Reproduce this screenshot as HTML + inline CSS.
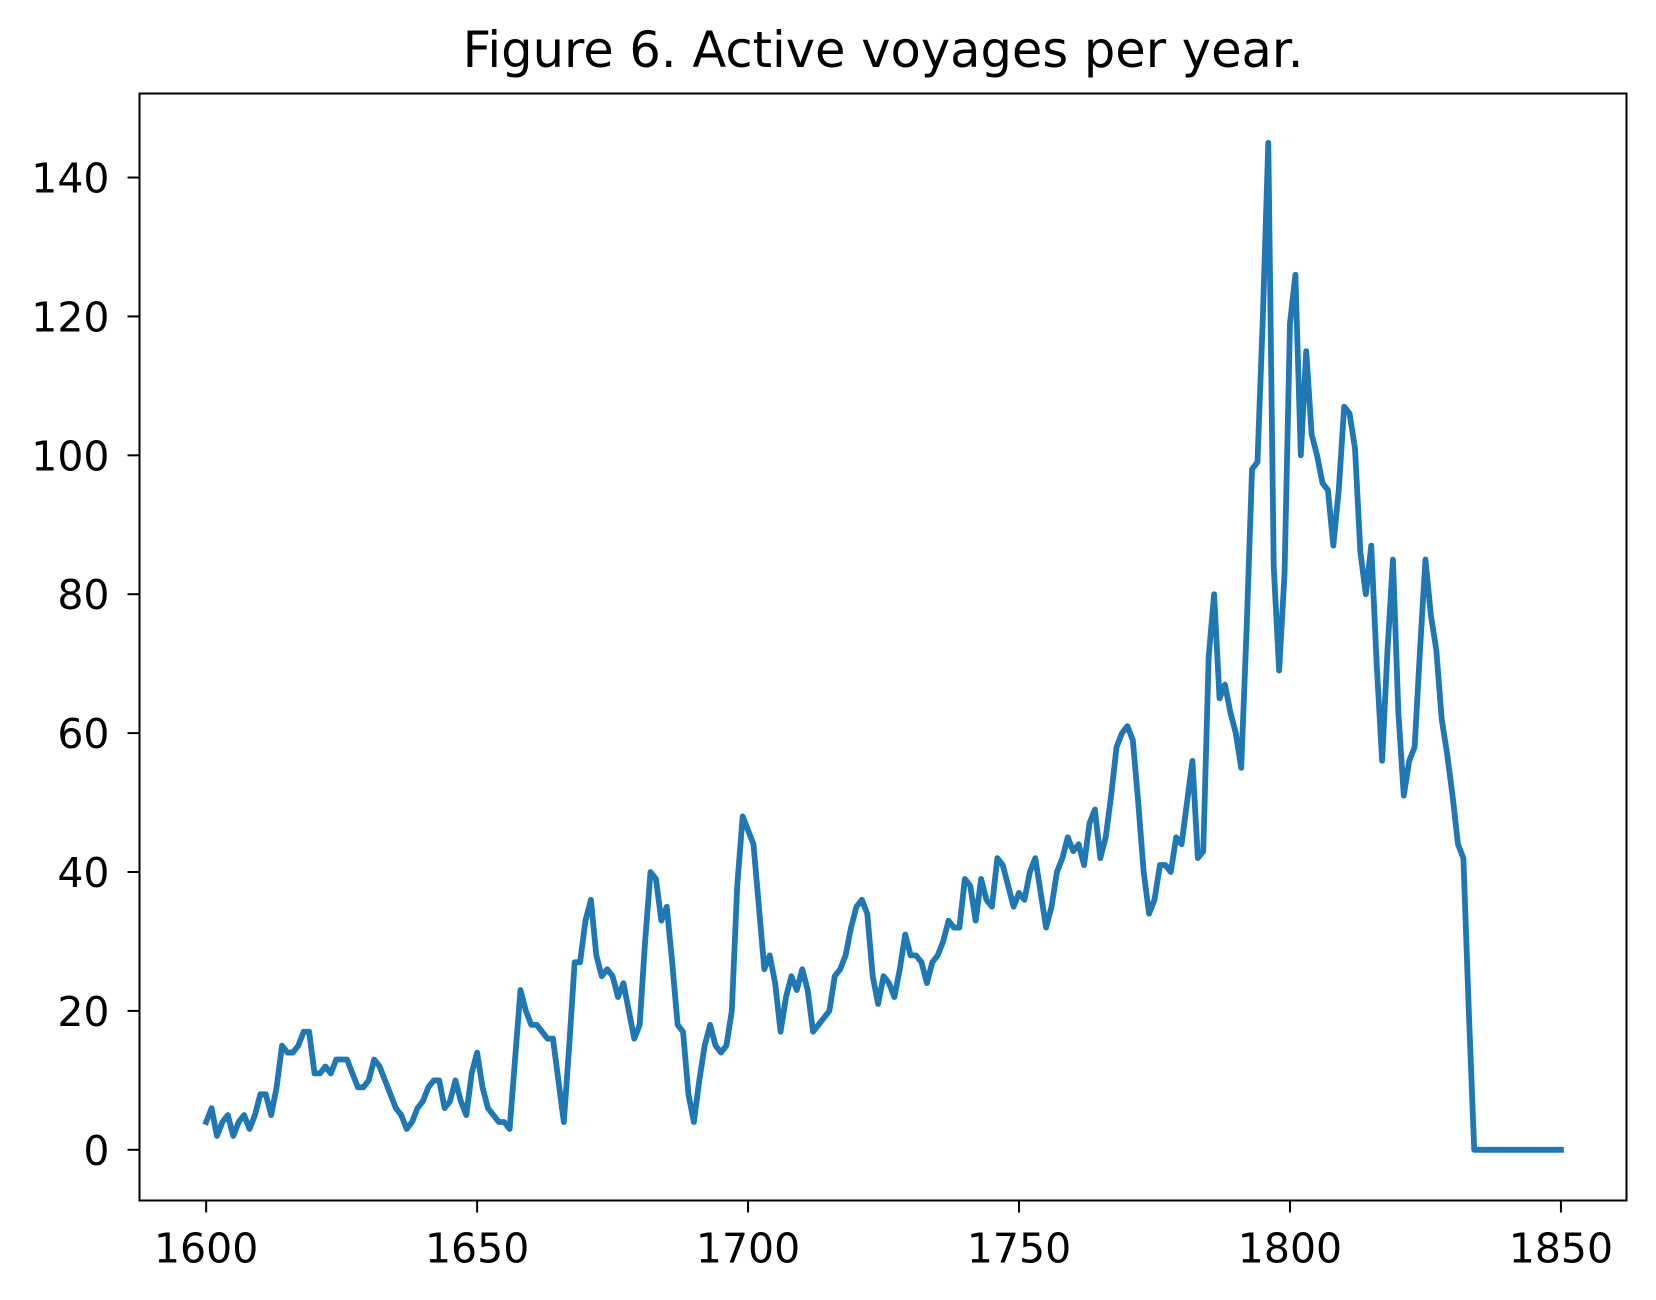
<!DOCTYPE html>
<html><head><meta charset="utf-8"><style>
body{margin:0;background:#fff;}
svg{display:block;font-family:"DejaVu Sans","Liberation Sans",sans-serif;}
</style></head><body>
<svg id="chart" width="1656" height="1300" viewBox="0 0 1656 1300" xmlns="http://www.w3.org/2000/svg">
<rect width="1656" height="1300" fill="#fff"/>
<text x="883" y="67" font-size="49.5" text-anchor="middle" fill="#000">Figure 6. Active voyages per year.</text>
<g id="ticks"></g>
<path id="line" fill="none" stroke="#1f77b4" stroke-width="5.8" stroke-linejoin="round" stroke-linecap="square"/>
<rect x="139.5" y="93.5" width="1487" height="1107" fill="none" stroke="#000" stroke-width="2" id="frame"/>
</svg>
<script>
const startYear = 1600;
const voyages = [4,6,2,4,5,2,4,5,3,5,8,8,5,9,15,14,14,15,17,17,11,11,12,11,13,13,13,11,9,9,10,13,12,10,8,6,5,3,4,6,7,9,10,10,6,7,10,7,5,11,14,9,6,5,4,4,3,13,23,20,18,18,17,16,16,10,4,15,27,27,33,36,28,25,26,25,22,24,20,16,18,30,40,39,33,35,27,18,17,8,4,10,15,18,15,14,15,20,38,48,46,44,35,26,28,24,17,22,25,23,26,23,17,18,19,20,25,26,28,32,35,36,34,25,21,25,24,22,26,31,28,28,27,24,27,28,30,33,32,32,39,38,33,39,36,35,42,41,38,35,37,36,40,42,37,32,35,40,42,45,43,44,41,47,49,42,45,51,58,60,61,59,50,40,34,36,41,41,40,45,44,50,56,42,43,71,80,65,67,63,60,55,75,98,99,120,145,84,69,83,119,126,100,115,103,100,96,95,87,95,107,106,101,86,80,87,70,56,72,85,63,51,56,58,72,85,77,72,62,57,51,44,42,20,0,0,0,0,0,0,0,0,0,0,0,0,0,0,0,0,0];
const xTicks = [1600,1650,1700,1750,1800,1850];
const yTicks = [0,20,40,60,80,100,120,140];
const L=139.5,T=93.5,R=1626.5,B=1200.5;
const xMin=1587.7,xMax=1862.1,yMin=-7.3,yMax=152.1;
function sx(v){return L+(v-xMin)/(xMax-xMin)*(R-L);}
function sy(v){return B-(v-yMin)/(yMax-yMin)*(B-T);}
const NS='http://www.w3.org/2000/svg';
const g=document.getElementById('ticks');
xTicks.forEach(t=>{
  const l=document.createElementNS(NS,'line');
  l.setAttribute('x1',sx(t));l.setAttribute('x2',sx(t));l.setAttribute('y1',B);l.setAttribute('y2',B+12);
  l.setAttribute('stroke','#000');l.setAttribute('stroke-width','2');
  
  
  g.appendChild(l);
  const tx=document.createElementNS(NS,'text');
  tx.setAttribute('x',sx(t));tx.setAttribute('y',B+62);tx.setAttribute('text-anchor','middle');tx.setAttribute('font-size','41');
  tx.textContent=t;
  
  
  g.appendChild(tx);
});
yTicks.forEach(t=>{
  const l=document.createElementNS(NS,'line');
  l.setAttribute('x1',L-12);l.setAttribute('x2',L);l.setAttribute('y1',sy(t));l.setAttribute('y2',sy(t));
  l.setAttribute('stroke','#000');l.setAttribute('stroke-width','2');
  
  
  g.appendChild(l);
  const tx=document.createElementNS(NS,'text');
  tx.setAttribute('x',L-30);tx.setAttribute('y',sy(t)+15);tx.setAttribute('text-anchor','end');tx.setAttribute('font-size','41');
  tx.textContent=t;
  
  
  g.appendChild(tx);
});
document.getElementById('line').setAttribute('d',voyages.map((v,i)=>(i?'L':'M')+sx(startYear+i).toFixed(2)+' '+sy(v).toFixed(2)).join(' '));
</script>
</body></html>
